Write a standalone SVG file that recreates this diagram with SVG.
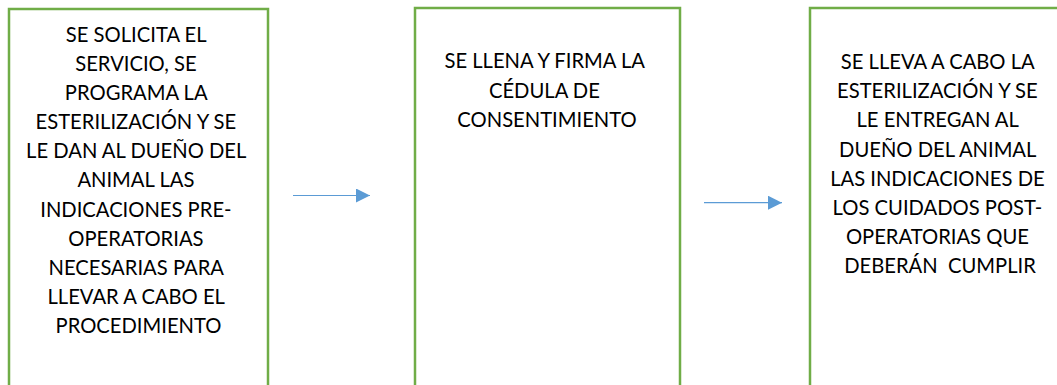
<svg xmlns="http://www.w3.org/2000/svg" width="1057" height="385" viewBox="0 0 1057 385">
<style>
.box{fill:#fff;stroke:#70AD47;stroke-width:2.5}
.t{font-family:Lato,"Liberation Sans",sans-serif;font-size:20.2px;fill:#000;text-anchor:middle}
.conn{stroke:#5B9BD5;stroke-width:1.2;fill:none}
</style>
<defs>
<marker id="ah" markerWidth="14" markerHeight="14" refX="14" refY="7" orient="auto" markerUnits="userSpaceOnUse">
<path d="M0,0 L14,7 L0,14 Z" fill="#5B9BD5"/>
</marker>
</defs>
<rect width="1057" height="385" fill="#fff"/>
<g id="node1">
<rect class="box" x="9" y="9" width="259" height="400"/>
<text class="t">
<tspan x="138.5" y="41.5">SE SOLICITA EL</tspan>
<tspan x="138.5" y="70.7">SERVICIO, SE</tspan>
<tspan x="138.5" y="99.8">PROGRAMA LA</tspan>
<tspan x="138.5" y="129">ESTERILIZACIÓN Y SE</tspan>
<tspan x="138.5" y="158.2">LE DAN AL DUEÑO DEL</tspan>
<tspan x="138.5" y="187.3">ANIMAL LAS</tspan>
<tspan x="138.5" y="216.5">INDICACIONES PRE-</tspan>
<tspan x="138.5" y="245.6">OPERATORIAS</tspan>
<tspan x="138.5" y="274.8">NECESARIAS PARA</tspan>
<tspan x="138.5" y="304">LLEVAR A CABO EL</tspan>
<tspan x="138.5" y="333.2">PROCEDIMIENTO</tspan>
</text>
</g>
<g id="node2">
<rect class="box" x="415" y="8" width="265" height="400"/>
<text class="t">
<tspan x="547" y="68.3">SE LLENA Y FIRMA LA</tspan>
<tspan x="547" y="97.6">CÉDULA DE</tspan>
<tspan x="547" y="127">CONSENTIMIENTO</tspan>
</text>
</g>
<g id="node3">
<rect class="box" x="810" y="8" width="261" height="400"/>
<text class="t">
<tspan x="940" y="69.3">SE LLEVA A CABO LA</tspan>
<tspan x="940" y="98.4">ESTERILIZACIÓN Y SE</tspan>
<tspan x="940" y="127.4">LE ENTREGAN AL</tspan>
<tspan x="940" y="156.5">DUEÑO DEL ANIMAL</tspan>
<tspan x="940" y="185.5">LAS INDICACIONES DE</tspan>
<tspan x="940" y="214.6">LOS CUIDADOS POST-</tspan>
<tspan x="940" y="243.6">OPERATORIAS QUE</tspan>
<tspan x="940" y="272.7" style="white-space:pre">DEBERÁN  CUMPLIR</tspan>
</text>
</g>
<g id="connectors">
<line class="conn" x1="293" y1="195.5" x2="370" y2="195.5" marker-end="url(#ah)"/>
<line class="conn" x1="704" y1="202.7" x2="782" y2="202.7" marker-end="url(#ah)"/>
</g>
</svg>
